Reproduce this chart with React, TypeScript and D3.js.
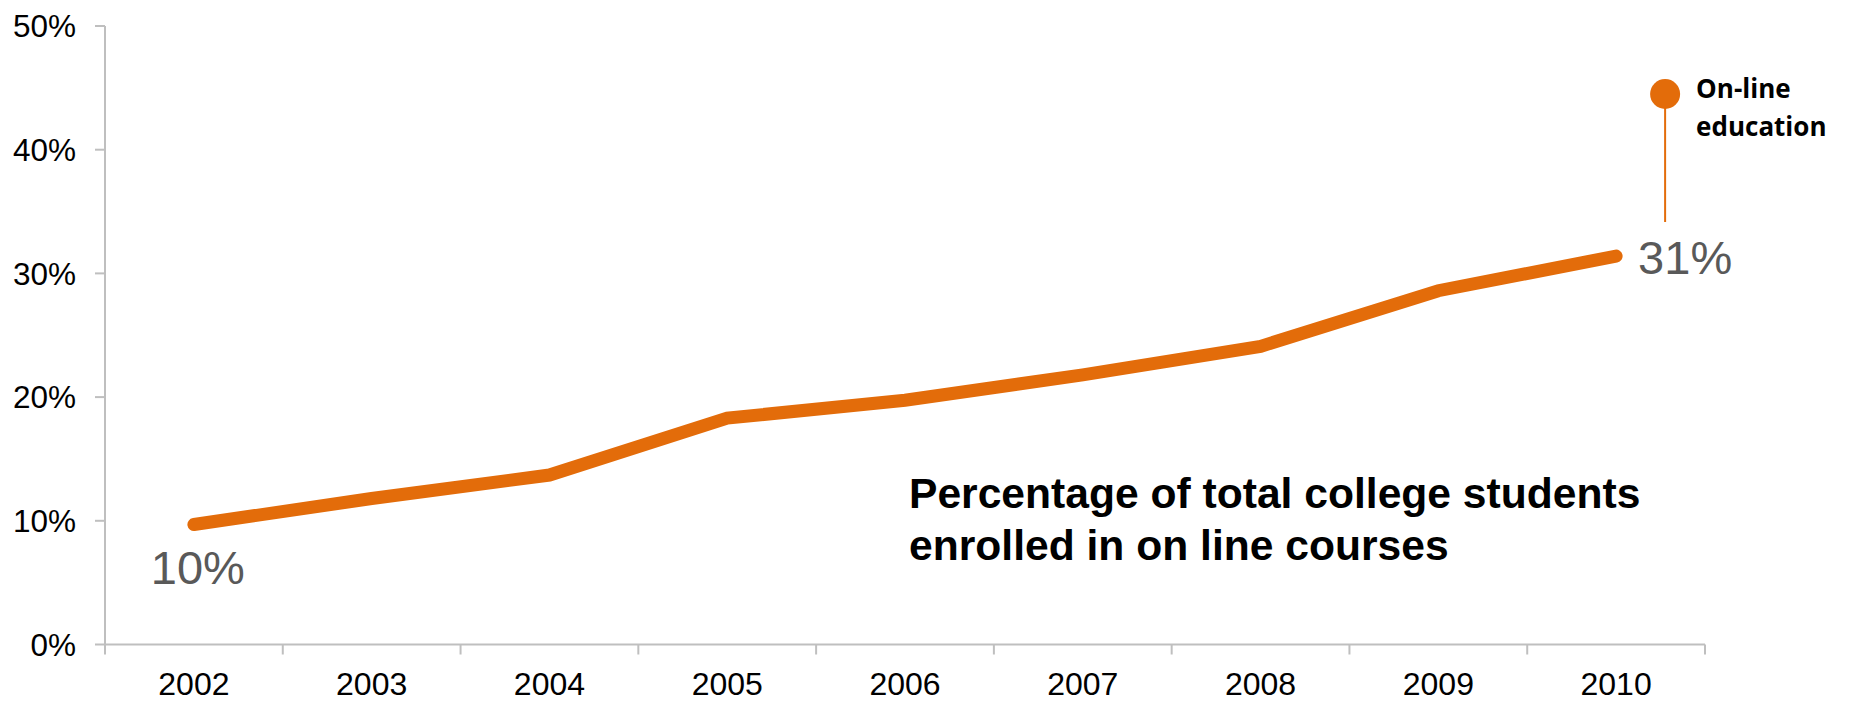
import React from "react";
import * as d3 from "d3";

const years = ["2002", "2003", "2004", "2005", "2006", "2007", "2008", "2009", "2010"];
const shares = [9.7, 11.8, 13.7, 18.3, 19.75, 21.8, 24.1, 28.6, 31.4];
const yTicks = [0, 10, 20, 30, 40, 50];
const firstLabel = "10%";
const lastLabel = "31%";
const titleLines = ["Percentage of total college students", "enrolled in on line courses"];
const legendLines = ["On-line", "education"];

const W = 1851;
const H = 701;
const M = { left: 105, right: 146, top: 26, bottom: 56.5 };
const ORANGE = "#E36C0A";
const AXIS = "#BFBFBF";

export default function App() {
  const x = d3.scaleBand<string>().domain(years).range([M.left, W - M.right]);
  const y = d3.scaleLinear().domain([0, 50]).range([H - M.bottom, M.top]);
  const cx = (d: string) => (x(d) as number) + x.bandwidth() / 2;
  const line = d3
    .line<number>()
    .x((_, i) => cx(years[i]))
    .y((v) => y(v));
  const y0 = y(0);
  const lastX = cx(years[years.length - 1]);
  const lastY = y(shares[shares.length - 1]);
  const firstX = cx(years[0]);
  const firstY = y(shares[0]);
  const boundaries = years.map((d) => x(d) as number).concat([W - M.right]);

  return (
    <svg
      width={W}
      height={H}
      style={{ position: "absolute", left: 0, top: 0, background: "#fff" }}
      fontFamily="'Liberation Sans', Arial, sans-serif"
    >
      {/* y axis */}
      <line x1={M.left} x2={M.left} y1={y(50)} y2={y0} stroke={AXIS} strokeWidth={2} />
      {yTicks.map((t) => (
        <g key={t}>
          <line x1={M.left - 10} x2={M.left} y1={y(t)} y2={y(t)} stroke={AXIS} strokeWidth={2} />
          <text x={M.left - 29} y={y(t)} dy="0.36em" textAnchor="end" fontSize={31.5} fill="#000">
            {t + "%"}
          </text>
        </g>
      ))}
      {/* x axis */}
      <line x1={M.left} x2={W - M.right} y1={y0} y2={y0} stroke={AXIS} strokeWidth={2} />
      {boundaries.map((b, i) => (
        <line key={i} x1={b} x2={b} y1={y0} y2={y0 + 10} stroke={AXIS} strokeWidth={2} />
      ))}
      {years.map((d) => (
        <text key={d} x={cx(d)} y={y0 + 50} textAnchor="middle" fontSize={32} fill="#000">
          {d}
        </text>
      ))}
      {/* series */}
      <path
        d={line(shares) || ""}
        fill="none"
        stroke={ORANGE}
        strokeWidth={13}
        strokeLinecap="round"
        strokeLinejoin="miter"
      />
      <text x={firstX + 4} y={firstY + 59} textAnchor="middle" fontSize={47} fill="#595959">
        {firstLabel}
      </text>
      <text x={lastX + 22} y={lastY + 18} textAnchor="start" fontSize={47} fill="#595959">
        {lastLabel}
      </text>
      {/* legend annotation */}
      <line x1={lastX + 49} x2={lastX + 49} y1={94} y2={222} stroke={ORANGE} strokeWidth={2} />
      <circle cx={lastX + 49} cy={94} r={15} fill={ORANGE} />
      {legendLines.map((t, i) => (
        <text
          key={t}
          x={lastX + 80}
          y={98 + i * 38}
          fontFamily="'Open Sans', sans-serif"
          fontWeight={700}
          fontSize={26}
          fill="#000"
        >
          {t}
        </text>
      ))}
      {/* title annotation */}
      {titleLines.map((t, i) => (
        <text key={t} x={909} y={508 + i * 52} fontWeight={700} fontSize={42.6} fill="#000">
          {t}
        </text>
      ))}
    </svg>
  );
}
